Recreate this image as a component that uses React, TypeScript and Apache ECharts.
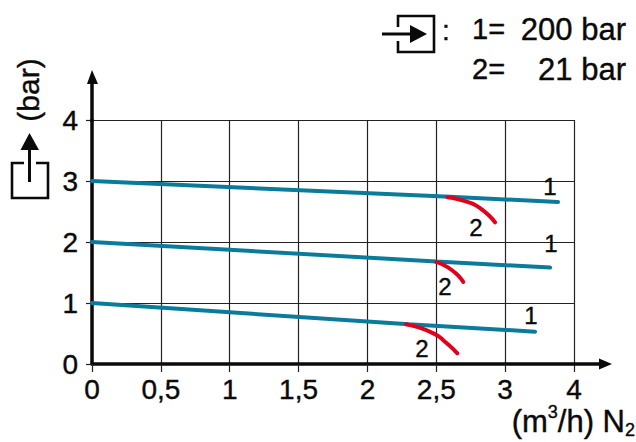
import React, { useEffect, useRef } from "react";
import * as echarts from "echarts";

const xTickLabels: Record<string, string> = { "0": "0", "0.5": "0,5", "1": "1", "1.5": "1,5", "2": "2", "2.5": "2,5", "3": "3", "3.5": "4" };
const yTicks = [0, 1, 2, 3, 4];

const line1Top = [[0, 3], [2.6, 2.74], [3.384, 2.656]];
const line1Mid = [[0, 2], [2.5, 1.68], [3.326, 1.58]];
const line1Low = [[0, 1], [2.3, 0.65], [3.217, 0.53]];
const line2Top = [[2.58, 2.735], [2.721, 2.661], [2.818, 2.557], [2.927, 2.323]];
const line2Mid = [[2.5, 1.67], [2.612, 1.541], [2.696, 1.344]];
const line2Low = [[2.28, 0.65], [2.479, 0.503], [2.576, 0.339], [2.653, 0.175]];

const FONT = "'Liberation Sans', Arial, sans-serif";
const TEAL = "#0b7b9c";
const RED = "#e2001a";
const BLACK = "#0a0a0a";
const weight = { textBorderColor: BLACK, textBorderWidth: 0.4 };
const richWeight = { stroke: BLACK, lineWidth: 0.4 };

const tealSeries = (data: number[][]) => ({
  type: "line", data, showSymbol: false, z: 3,
  lineStyle: { color: TEAL, width: 4, cap: "round" },
});
const redSeries = (data: number[][]) => ({
  type: "line", data, showSymbol: false, smooth: 0.6, z: 4,
  lineStyle: { color: RED, width: 4, cap: "round" },
});

const txt = (text: string, x: number, y: number, fontSize = 28, align = "center", extra: any = {}) => ({
  type: "text", x, y, z: 20, ...extra,
  style: { text, fontSize, fontFamily: FONT, fill: BLACK, align, verticalAlign: "middle", stroke: BLACK, lineWidth: 0.4 },
});
const stroke = (lineWidth: number) => ({ stroke: BLACK, lineWidth, fill: "none" });
const poly = (points: number[][], lineWidth = 3) => ({
  type: "polyline", z: 20, shape: { points }, style: stroke(lineWidth),
});
const head = (points: number[][]) => ({
  type: "polygon", z: 20, shape: { points }, style: { fill: BLACK },
});

export default function App() {
  const ref = useRef<HTMLDivElement>(null);
  useEffect(() => {
    const chart = echarts.init(ref.current!, null, { renderer: "svg" });
    chart.setOption({
      animation: false,
      backgroundColor: "#fff",
      grid: { left: 92, top: 120, width: 482, height: 244 },
      xAxis: {
        type: "value", min: 0, max: 3.5, interval: 0.5,
        axisLine: { lineStyle: { color: BLACK, width: 3.5 } },
        axisTick: { length: 8, lineStyle: { color: "#222", width: 1.2 } },
        axisLabel: {
          margin: 11, fontSize: 28, fontFamily: FONT, color: BLACK, ...weight,
          formatter: (v: number) => xTickLabels[String(v)] ?? "",
        },
        splitLine: { show: true, lineStyle: { color: "#222", width: 1.2 } },
      },
      yAxis: {
        type: "value", min: yTicks[0], max: yTicks[yTicks.length - 1], interval: 1,
        axisLine: { show: true, lineStyle: { color: BLACK, width: 3.5 } },
        axisTick: { show: true, length: 6, lineStyle: { color: "#222", width: 1.2 } },
        axisLabel: { margin: 14, fontSize: 28, fontFamily: FONT, color: BLACK, ...weight },
        splitLine: { show: true, lineStyle: { color: "#222", width: 1.2 } },
      },
      series: [line1Top, line1Mid, line1Low].map(tealSeries).concat([line2Top, line2Mid, line2Low].map(redSeries) as any),
      graphic: [
        poly([[92, 122], [92, 80]], 3.5),
        head([[92, 70], [98, 84], [87, 84]]),
        poly([[574, 364], [602, 364]], 3.5),
        head([[612, 364], [599, 358.5], [599, 369.5]]),
        // outlet symbol on the y axis
        poly([[24, 163], [12, 163], [12, 198], [48, 198], [48, 163], [36, 163]], 2.6),
        poly([[29.5, 182], [29.5, 148]], 3),
        head([[29.5, 133], [39, 150], [20.5, 150]]),
        txt("(bar)", 28, 90, 30, "center", { rotation: Math.PI / 2 }),
        // inlet symbol in the key
        poly([[398, 27], [398, 16], [434, 16], [434, 52], [398, 52], [398, 41]], 2.6),
        poly([[382, 34], [412, 34]], 3),
        head([[427, 34], [410, 25], [410, 43]]),
        txt(":", 446, 30, 28),
        txt("1=", 472, 29, 29, "left"),
        txt("200 bar", 626, 29, 31, "right"),
        txt("2=", 472, 69, 29, "left"),
        txt("21 bar", 626, 69, 31, "right"),
        {
          type: "text", x: 635, y: 421, z: 20,
          style: {
            text: "{a|(m}{s|3}{a|/h) N}{b|2}",
            align: "right", verticalAlign: "middle", fontFamily: FONT, fill: BLACK,
            rich: {
              a: { fontSize: 31, fontFamily: FONT, fill: BLACK, lineHeight: 36, ...richWeight },
              s: { fontSize: 18, fontFamily: FONT, fill: BLACK, verticalAlign: "top", lineHeight: 36, ...richWeight },
              b: { fontSize: 18, fontFamily: FONT, fill: BLACK, verticalAlign: "bottom", lineHeight: 36, ...richWeight },
            },
          },
        },
        // curve numbers
        txt("1", 550, 186, 24),
        txt("1", 551, 243, 24),
        txt("1", 531, 315, 24),
        txt("2", 476, 227, 24),
        txt("2", 445, 286, 24),
        txt("2", 422, 348, 24),
      ],
    });
    return () => chart.dispose();
  }, []);
  return <div ref={ref} style={{ position: "absolute", left: 0, top: 0, width: 636, height: 442 }} />;
}
